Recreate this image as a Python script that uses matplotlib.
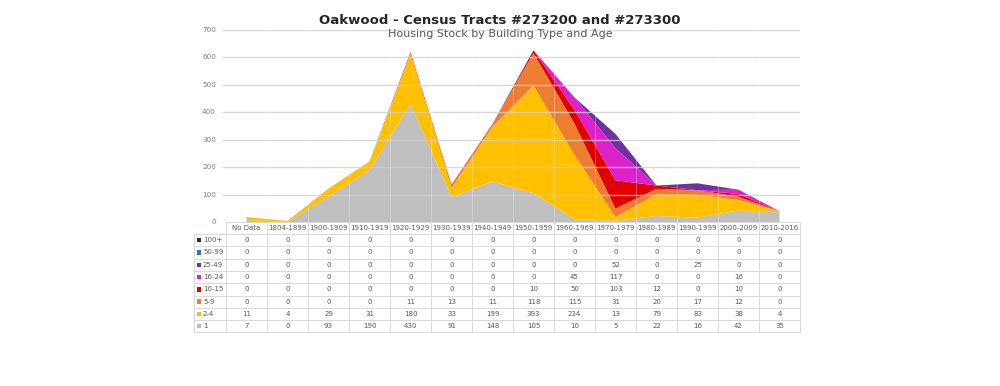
import matplotlib
matplotlib.use("Agg")
import matplotlib.pyplot as plt
import numpy as np

plt.rcParams['font.family'] = ['DejaVu Sans']

categories = ["No Data", "1804-1899", "1900-1909", "1910-1919", "1920-1929", "1930-1939",
              "1940-1949", "1950-1959", "1960-1969", "1970-1979", "1980-1989", "1990-1999",
              "2000-2009", "2010-2016"]

s_1 = [7, 0, 93, 190, 430, 91, 148, 105, 10, 5, 22, 16, 42, 35]
s_2_4 = [11, 4, 29, 31, 180, 33, 199, 393, 234, 13, 79, 83, 38, 4]
s_5_9 = [0, 0, 0, 0, 11, 13, 11, 118, 115, 31, 20, 17, 12, 0]
s_10_15 = [0, 0, 0, 0, 0, 0, 0, 10, 50, 103, 12, 0, 10, 0]
s_16_24 = [0, 0, 0, 0, 0, 0, 0, 0, 45, 117, 0, 0, 16, 0]
s_25_49 = [0, 0, 0, 0, 0, 0, 0, 0, 0, 52, 0, 25, 0, 0]
s_50_99 = [0] * 14
s_100p = [0] * 14

series_names = ["1", "2-4", "5-9", "10-15", "16-24", "25-49", "50-99", "100+"]
series_vals = [s_1, s_2_4, s_5_9, s_10_15, s_16_24, s_25_49, s_50_99, s_100p]
colors = ["#BFBFBF", "#FFC000", "#ED7D31", "#E00000", "#DD22CC", "#7030A0", "#2E75B6", "#1F2A55"]

y_ticks = [0, 100, 200, 300, 400, 500, 600, 700]

W, H = 1000, 386
fig = plt.figure(figsize=(W / 100, H / 100), dpi=100)

# pixel layout
col_left, col_right = 226, 800
n = len(categories)
colw = (col_right - col_left) / n
grid_left = 223
plot_top, plot_bottom = 30, 222

ax = fig.add_axes([grid_left / W, 1 - plot_bottom / H, (col_right - grid_left) / W,
                   (plot_bottom - plot_top) / H])
x = np.arange(n)
ax.stackplot(x, *series_vals, colors=colors, linewidth=0, zorder=2)
ax.set_xlim(-0.5 - (col_left - grid_left) / colw, n - 0.5)
ax.set_ylim(0, 700)
for yv in y_ticks[1:]:
    ax.axhline(yv, color="#D0D0D0", lw=1.0, zorder=3, alpha=0.8)
for b in np.arange(n + 1) - 0.5:
    if b > -0.5:
        ax.axvline(b, color="white", lw=0.6, alpha=0.35, zorder=3)
ax.set_xticks([])
ax.set_yticks([])
for s in ax.spines.values():
    s.set_visible(False)
ax.patch.set_alpha(0)

for yv in y_ticks:
    ypx = plot_bottom - (plot_bottom - plot_top) * yv / 700
    fig.text(216 / W, 1 - ypx / H, str(yv), ha="right", va="center", fontsize=5.2, color="#7F7F7F")

# Title
fig.text(500 / W, 1 - 20 / H, "Oakwood - Census Tracts #273200 and #273300", ha="center", va="center",
         fontsize=9.5, fontweight="bold", color="#262626")
fig.text(500 / W, 1 - 34 / H, "Housing Stock by Building Type and Age", ha="center", va="center",
         fontsize=8, color="#595959")

# Table
tab_left, tab_top, head_h, row_h = 194, 222, 12, 12.3
nrows = len(series_names)
tab_bottom = tab_top + head_h + row_h * nrows
tax = fig.add_axes([0, 0, 1, 1])
tax.set_xlim(0, W)
tax.set_ylim(H, 0)
tax.axis("off")
lc = "#D9D9D9"
# header
tax.plot([col_left, col_right], [tab_top, tab_top], color=lc, lw=0.7)
for i in range(n + 1):
    xx = col_left + i * colw
    tax.plot([xx, xx], [tab_top, tab_bottom], color=lc, lw=0.7)
for i, c in enumerate(categories):
    tax.text(col_left + (i + 0.5) * colw, tab_top + head_h / 2, c, ha="center", va="center",
             fontsize=5.0, color="#595959")
# rows top to bottom: 100+ ... 1
tax.plot([tab_left, tab_left], [tab_top + head_h, tab_bottom], color=lc, lw=0.7)
for r in range(nrows + 1):
    yy = tab_top + head_h + r * row_h
    tax.plot([tab_left, col_right], [yy, yy], color=lc, lw=0.7)
order = list(range(nrows))[::-1]
for r, si in enumerate(order):
    yc = tab_top + head_h + (r + 0.5) * row_h
    tax.add_patch(plt.Rectangle((tab_left + 3, yc - 2.2), 4.4, 4.4, color=colors[si], lw=0))
    tax.text(tab_left + 9, yc, series_names[si], ha="left", va="center", fontsize=5.0, color="#595959")
    for i, v in enumerate(series_vals[si]):
        tax.text(col_left + (i + 0.5) * colw, yc, str(v), ha="center", va="center",
                 fontsize=5.0, color="#595959")

fig.savefig("out.png", dpi=100, facecolor="white")
